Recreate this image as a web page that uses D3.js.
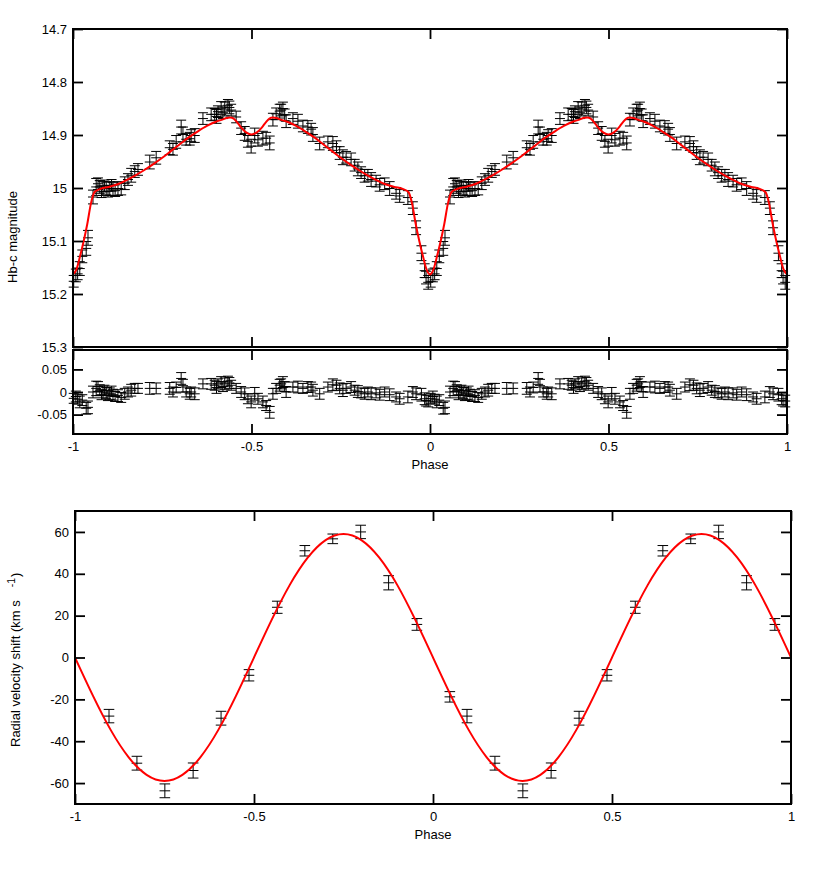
<!DOCTYPE html>
<html>
<head>
<meta charset="utf-8">
<script src="https://cdn.jsdelivr.net/npm/d3@7"></script>
<style>
  body { margin: 0; background: #fff; }
  svg { display: block; }
</style>
</head>
<body>
<div id="chart"></div>
<script>
// light curve, one cycle (phase 0..1), drawn twice
const lcPhase = [
  0.002, 0.008, 0.013, 0.019, 0.026, 0.037, 0.042, 0.056, 0.065, 0.070,
  0.075, 0.080, 0.084, 0.088, 0.093, 0.098, 0.103, 0.108, 0.112, 0.118,
  0.126, 0.135, 0.145, 0.154, 0.163, 0.173, 0.182, 0.215, 0.233, 0.271,
  0.280, 0.289, 0.303, 0.308, 0.317, 0.327, 0.331, 0.341, 0.364, 0.387,
  0.397, 0.402, 0.406, 0.415, 0.420, 0.425, 0.434, 0.438, 0.443, 0.457,
  0.471, 0.481, 0.490, 0.499, 0.509, 0.518, 0.532, 0.541, 0.551, 0.560,
  0.569, 0.579, 0.583, 0.588, 0.593, 0.597, 0.616, 0.630, 0.644, 0.658,
  0.667, 0.672, 0.691, 0.714, 0.728, 0.738, 0.747, 0.756, 0.765, 0.779,
  0.789, 0.798, 0.807, 0.817, 0.826, 0.835, 0.849, 0.859, 0.873, 0.887,
  0.905, 0.915, 0.938, 0.952, 0.961, 0.976, 0.985, 0.989, 0.995,
]
const lcMag = [
  15.176, 15.165, 15.162, 15.152, 15.129, 15.114, 15.094, 15.017, 14.998, 14.992,
  14.998, 15.007, 15.001, 14.996, 15.001, 15.006, 15.001, 14.995, 15.002, 15.005,
  15.001, 15.002, 14.991, 14.984, 14.976, 14.969, 14.965, 14.951, 14.943, 14.924,
  14.927, 14.913, 14.885, 14.899, 14.908, 14.907, 14.901, 14.901, 14.869, 14.861,
  14.861, 14.865, 14.856, 14.849, 14.858, 14.851, 14.844, 14.848, 14.853, 14.866,
  14.887, 14.897, 14.912, 14.921, 14.901, 14.909, 14.906, 14.906, 14.915, 14.871,
  14.860, 14.855, 14.853, 14.850, 14.862, 14.874, 14.869, 14.874, 14.883, 14.885,
  14.889, 14.899, 14.916, 14.913, 14.916, 14.922, 14.934, 14.942, 14.942, 14.946,
  14.957, 14.964, 14.971, 14.977, 14.976, 14.984, 14.987, 14.994, 14.992, 15.001,
  15.010, 15.015, 15.018, 15.038, 15.075, 15.123, 15.156, 15.169, 15.178,
]
const lcResid = [
  -0.014, -0.010, -0.016, -0.022, -0.018, -0.036, -0.034, 0.000, 0.008, 0.012,
  0.004, -0.006, 0.000, 0.004, -0.002, -0.008, -0.004, 0.002, -0.006, -0.010,
  -0.008, -0.012, -0.004, 0.000, 0.004, 0.008, 0.008, 0.008, 0.008, 0.008,
  0.000, 0.010, 0.030, 0.014, 0.000, -0.004, 0.000, -0.004, 0.018, 0.018,
  0.015, 0.010, 0.018, 0.022, 0.012, 0.018, 0.024, 0.020, 0.015, 0.008,
  0.000, -0.004, -0.015, -0.022, -0.004, -0.015, -0.022, -0.030, -0.045, -0.004,
  0.008, 0.015, 0.018, 0.022, 0.012, 0.000, 0.011, 0.011, 0.008, 0.011,
  0.011, 0.004, -0.004, 0.011, 0.016, 0.015, 0.008, 0.004, 0.008, 0.011,
  0.004, 0.001, -0.002, -0.004, 0.000, -0.004, -0.002, -0.006, 0.000, -0.006,
  -0.011, -0.015, -0.011, 0.000, -0.004, -0.006, -0.015, -0.019, -0.020,
]
const lcErr = [
  0.011, 0.012, 0.011, 0.013, 0.012, 0.013, 0.014, 0.013, 0.016, 0.011,
  0.012, 0.011, 0.013, 0.011, 0.012, 0.011, 0.013, 0.011, 0.012, 0.011,
  0.013, 0.011, 0.012, 0.011, 0.013, 0.011, 0.011, 0.013, 0.012, 0.013,
  0.011, 0.012, 0.013, 0.014, 0.011, 0.012, 0.011, 0.013, 0.011, 0.012,
  0.011, 0.013, 0.011, 0.012, 0.011, 0.013, 0.011, 0.012, 0.011, 0.011,
  0.012, 0.013, 0.011, 0.013, 0.014, 0.012, 0.013, 0.011, 0.013, 0.012,
  0.011, 0.013, 0.011, 0.012, 0.011, 0.012, 0.011, 0.013, 0.011, 0.012,
  0.011, 0.013, 0.012, 0.011, 0.013, 0.011, 0.012, 0.014, 0.011, 0.012,
  0.011, 0.013, 0.011, 0.012, 0.011, 0.013, 0.011, 0.012, 0.011, 0.013,
  0.011, 0.012, 0.013, 0.012, 0.013, 0.014, 0.013, 0.012, 0.013,
]

// fitted light curve model
const lcModelPhase = [
  0, 0.01, 0.02, 0.03, 0.04, 0.05, 0.06, 0.075, 0.1, 0.125, 0.15, 0.175, 0.2,
  0.225, 0.25, 0.275, 0.3, 0.325, 0.35, 0.375, 0.4, 0.42, 0.43, 0.44, 0.45, 0.46,
  0.47, 0.485, 0.5, 0.515, 0.53, 0.54, 0.55, 0.56, 0.57, 0.58, 0.6, 0.625, 0.65,
  0.675, 0.7, 0.725, 0.75, 0.775, 0.8, 0.825, 0.85, 0.875, 0.9, 0.925, 0.94,
  0.95, 0.96, 0.97, 0.98, 0.99, 1,
]
const lcModelMag = [
  15.163, 15.153, 15.128, 15.1, 15.068, 15.03, 15.008, 15.002, 14.998, 14.993,
  14.985, 14.976, 14.966, 14.955, 14.943, 14.93, 14.917, 14.904, 14.893, 14.883,
  14.875, 14.8705, 14.868, 14.867, 14.869, 14.876, 14.885, 14.895, 14.899, 14.895,
  14.885, 14.876, 14.869, 14.867, 14.868, 14.8705, 14.875, 14.883, 14.893, 14.904,
  14.917, 14.93, 14.943, 14.955, 14.966, 14.976, 14.985, 14.993, 14.998, 15.002,
  15.008, 15.03, 15.068, 15.1, 15.128, 15.153, 15.163,
]

// radial velocities, one cycle
const rvPhase = [0.047, 0.095, 0.173, 0.251, 0.33, 0.408, 0.486, 0.565, 0.642, 0.72, 0.798, 0.876, 0.955]
const rvVel = [-18.8, -28, -50.5, -63.7, -54, -29, -8.5, 24, 51, 56.7, 60, 35.7, 15.8]
const rvErr = [2.5, 3.2, 3.3, 3.3, 3.6, 3.3, 2.7, 2.9, 2.5, 2.3, 3.2, 3.4, 2.8]

const rvModelPhase = [0, 0.05, 0.1, 0.15, 0.2, 0.25, 0.3, 0.35, 0.4, 0.45, 0.5, 0.55, 0.6, 0.65, 0.7, 0.75, 0.8, 0.85, 0.9, 0.95, 1]
const rvModelVel = [0, -18.2, -34.7, -47.7, -56.1, -59, -56.1, -47.7, -34.7, -18.2, 0, 18.2, 34.7, 47.7, 56.1, 59, 56.1, 47.7, 34.7, 18.2, 0]

// ticks
const phaseTicks = [-1, -0.5, 0, 0.5, 1]
const magTicks = [14.7, 14.8, 14.9, 15, 15.1, 15.2, 15.3]
const residTicks = [-0.05, 0, 0.05]
const rvTicks = [-60, -40, -20, 0, 20, 40, 60]
const cycleShifts = [-1, 0]

const font = "'Liberation Sans', Arial, Helvetica, sans-serif"
const fmt = (d) => String(+d.toFixed(3))

const svg = d3
  .select('#chart')
  .append('svg')
  .attr('width', 830)
  .attr('height', 875)
  .style('font-family', font)

// scales
const xTop = d3.scaleLinear().domain([-1, 1]).range([73, 787])
const yMag = d3.scaleLinear().domain([14.7, 15.3]).range([29, 347])
const yRes = d3.scaleLinear().domain([-0.093, 0.093]).range([434, 350])
const xRv = d3.scaleLinear().domain([-1, 1]).range([75, 791])
const yRv = d3.scaleLinear().domain([-70, 70]).range([804, 511])

// data copies over two cycles
const lcPoints = cycleShifts.flatMap((s) =>
  lcPhase.map((p, i) => ({ x: p + s, mag: lcMag[i], res: lcResid[i], err: lcErr[i] }))
)
const lcModel = cycleShifts
  .flatMap((s) => lcModelPhase.map((p, i) => ({ x: p + s, y: lcModelMag[i] })))
  .filter((d, i, a) => i === 0 || d.x !== a[i - 1].x)
const rvPoints = cycleShifts
  .flatMap((s) => rvPhase.map((p, i) => ({ x: p + s, y: rvVel[i], err: rvErr[i] })))
  .filter((d) => d.x > -0.95)
const rvModel = cycleShifts
  .flatMap((s) => rvModelPhase.map((p, i) => ({ x: p + s, y: rvModelVel[i] })))
  .filter((d, i, a) => i === 0 || d.x !== a[i - 1].x)

// error bar with caps and a short horizontal bar through the point
const errPath = (cx, cy, lo, hi, w) =>
  `M${cx},${lo}V${hi}M${cx - w},${lo}H${cx + w}M${cx - w},${hi}H${cx + w}M${cx - w},${cy}H${cx + w}`

const drawErrors = (g, data, x, y, yKey, w) => {
  g.append('g')
    .selectAll('path')
    .data(data)
    .join('path')
    .attr('d', (d) => errPath(x(d.x), y(d[yKey]), y(d[yKey] - d.err), y(d[yKey] + d.err), w))
    .attr('fill', 'none')
    .attr('stroke', '#000')
    .attr('stroke-width', 1)
}

const drawAxes = (x, y, xTicks, yTicks, xLabels) => {
  const [x0, x1] = x.range()
  const [top, bottom] = d3.extent(y.range())
  const tick = 10
  const g = svg.append('g')

  const axes = [
    [d3.axisBottom(x).tickValues(xTicks).tickPadding(8).tickFormat(xLabels ? fmt : () => ''), `translate(0,${bottom})`],
    [d3.axisTop(x).tickValues(xTicks).tickFormat(() => ''), `translate(0,${top})`],
    [d3.axisLeft(y).tickValues(yTicks).tickPadding(6).tickFormat(fmt), `translate(${x0},0)`],
    [d3.axisRight(y).tickValues(yTicks).tickFormat(() => ''), `translate(${x1},0)`],
  ]
  axes.forEach(([axis, tr]) => {
    g.append('g')
      .attr('transform', tr)
      .call(axis.tickSizeInner(-tick).tickSizeOuter(0))
      .attr('font-size', 13)
      .attr('font-family', font)
  })
  g.selectAll('.domain').remove()
  g.selectAll('.tick line').attr('stroke', '#000').attr('stroke-width', 1.8)
  g.selectAll('.tick text').attr('fill', '#000')

  g.append('rect')
    .attr('x', x0)
    .attr('y', top)
    .attr('width', x1 - x0)
    .attr('height', bottom - top)
    .attr('fill', 'none')
    .attr('stroke', '#000')
    .attr('stroke-width', 2)
}

// top panel: light curve
drawErrors(svg, lcPoints, xTop, yMag, 'mag', 5)
svg
  .append('path')
  .datum(lcModel)
  .attr('fill', 'none')
  .attr('stroke', '#ff0000')
  .attr('stroke-width', 2)
  .attr('d', d3.line().x((d) => xTop(d.x)).y((d) => yMag(d.y)).curve(d3.curveMonotoneX))
drawAxes(xTop, yMag, phaseTicks, magTicks, false)

svg
  .append('text')
  .attr('transform', 'translate(17,237) rotate(-90)')
  .attr('text-anchor', 'middle')
  .attr('font-size', 13)
  .text('Hb-c magnitude')

// residual panel
drawErrors(svg, lcPoints, xTop, yRes, 'res', 5)
drawAxes(xTop, yRes, phaseTicks, residTicks, true)

svg
  .append('text')
  .attr('x', (xTop(-1) + xTop(1)) / 2)
  .attr('y', 469)
  .attr('text-anchor', 'middle')
  .attr('font-size', 13)
  .text('Phase')

// bottom panel: radial velocities
drawErrors(svg, rvPoints, xRv, yRv, 'y', 5.3)
svg
  .append('path')
  .datum(rvModel)
  .attr('fill', 'none')
  .attr('stroke', '#ff0000')
  .attr('stroke-width', 2)
  .attr('d', d3.line().x((d) => xRv(d.x)).y((d) => yRv(d.y)).curve(d3.curveNatural))
drawAxes(xRv, yRv, phaseTicks, rvTicks, true)

svg
  .append('text')
  .attr('x', (xRv(-1) + xRv(1)) / 2)
  .attr('y', 839)
  .attr('text-anchor', 'middle')
  .attr('font-size', 13)
  .text('Phase')

const rvLabel = svg
  .append('text')
  .attr('transform', 'translate(20,747) rotate(-90)')
  .attr('font-size', 13)
rvLabel.append('tspan').text('Radial velocity shift (km s')
rvLabel.append('tspan').attr('dx', 13).attr('dy', -5).attr('font-size', 10.5).text('-1')
rvLabel.append('tspan').attr('dx', 1).attr('dy', 5).text(')')
</script>
</body>
</html>
